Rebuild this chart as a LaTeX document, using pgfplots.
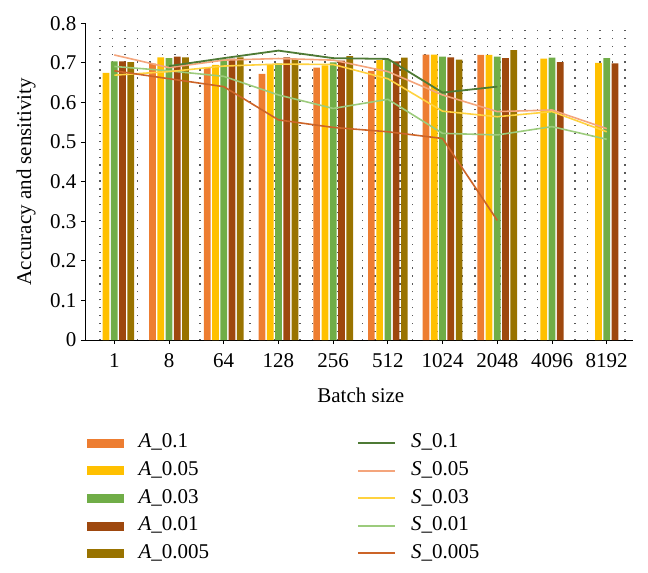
\documentclass[border=0pt]{standalone}
\usepackage{fontspec}
\setmainfont{Liberation Serif}
\usepackage{pgfplots}
\pgfplotsset{compat=1.18}
\definecolor{cA1}{HTML}{ED7D31}
\definecolor{cA2}{HTML}{FFC000}
\definecolor{cA3}{HTML}{70AD47}
\definecolor{cA4}{HTML}{9E480E}
\definecolor{cA5}{HTML}{997300}
\definecolor{cS1}{HTML}{4E7A35}
\definecolor{cS2}{HTML}{F4A57C}
\definecolor{cS3}{HTML}{FFD23F}
\definecolor{cS4}{HTML}{9CCB7C}
\definecolor{cS5}{HTML}{CC6428}
\begin{document}
\begin{tikzpicture}[font=\fontsize{21bp}{25bp}\selectfont]
\begin{axis}[name=ax,
  width=548.3bp, height=316.7bp, scale only axis,
  xmin=-0.536, xmax=9.486, ymin=0, ymax=0.8,
  axis lines=left, axis line style={-, line width=0.9bp},
  xtick={0,...,9}, xticklabels={1,8,64,128,256,512,1024,2048,4096,8192},
  ytick={0,0.1,0.2,0.3,0.4,0.5,0.6,0.7,0.8},
  /pgf/number format/assume math mode=true,
  tick align=outside, major tick length=4bp, tick style={black, line width=0.8bp},
  xticklabel style={yshift=-6bp},
  yticklabel style={xshift=-1bp},
  minor xtick={-0.261,-0.0325,...,9.4}, minor tick length=0pt,
  xminorgrids, minor grid style={black!65, line width=1.3bp, dash pattern=on 1.3bp off 6.62bp},
  xlabel={Batch size}, ylabel={Accuracy and sensitivity},
  xlabel style={at={(axis description cs:0.503,-0.1958)}, anchor=base},
  ylabel style={at={(axis description cs:-0.1076,0.5)}, anchor=center},
  legend columns=2,
  legend style={draw=none, fill=none, inner sep=0pt, at={(0.0036,-0.293)}, anchor=north west,
    nodes={inner sep=1bp, text height=14bp, text depth=4bp},
    row sep=7.6bp,
    /tikz/every odd column/.append style={column sep=14bp},
    /tikz/every even column/.append style={column sep=147bp}},
  legend cell align=left,
]
% bars
\addplot[ybar, fill=cA1, draw=none, bar width=0.1225, bar shift=-0.302, forget plot] coordinates {(1,0.698) (2,0.689) (3,0.672) (4,0.688) (5,0.680) (6,0.721) (7,0.720)};
\addplot[ybar, fill=cA2, draw=none, bar width=0.1225, bar shift=-0.151, forget plot] coordinates {(0,0.675) (1,0.714) (2,0.695) (3,0.697) (4,0.694) (5,0.707) (6,0.721) (7,0.720) (8,0.711) (9,0.700)};
\addplot[ybar, fill=cA3, draw=none, bar width=0.1225, bar shift=0, forget plot] coordinates {(0,0.704) (1,0.712) (2,0.709) (3,0.699) (4,0.701) (5,0.707) (6,0.716) (7,0.716) (8,0.713) (9,0.712)};
\addplot[ybar, fill=cA4, draw=none, bar width=0.1225, bar shift=0.151, forget plot] coordinates {(0,0.704) (1,0.716) (2,0.711) (3,0.714) (4,0.706) (5,0.704) (6,0.714) (7,0.712) (8,0.702) (9,0.699)};
\addplot[ybar, fill=cA5, draw=none, bar width=0.1225, bar shift=0.302, forget plot] coordinates {(0,0.702) (1,0.714) (2,0.714) (3,0.710) (4,0.717) (5,0.713) (6,0.708) (7,0.732)};
% lines
\addplot[cS4, line width=1.6bp, forget plot] coordinates {(0,0.691) (1,0.680) (2,0.666) (3,0.619) (4,0.585) (5,0.608) (6,0.522) (7,0.518) (8,0.539) (9,0.507)};
\addplot[cS3, line width=1.6bp, forget plot] coordinates {(0,0.669) (1,0.678) (2,0.692) (3,0.697) (4,0.696) (5,0.660) (6,0.578) (7,0.564) (8,0.577) (9,0.526)};
\addplot[cS2, line width=1.6bp, forget plot] coordinates {(0,0.720) (1,0.688) (2,0.707) (3,0.711) (4,0.707) (5,0.678) (6,0.619) (7,0.577) (8,0.581) (9,0.534)};
\addplot[cS5, line width=1.6bp, forget plot] coordinates {(0,0.680) (1,0.660) (2,0.640) (3,0.556) (4,0.537) (5,0.526) (6,0.509) (7,0.302)};
\addplot[cS1, line width=1.8bp, forget plot] coordinates {(1,0.692) (2,0.712) (3,0.731) (4,0.712) (5,0.710) (6,0.625) (7,0.640)};
% legend
\addlegendimage{legend image code/.code={\fill[cA1] (0bp,-4bp) rectangle (36bp,4bp);}}
\addlegendentry{\textit{A}\_0.1}
\addlegendimage{legend image code/.code={\draw[cS1, line width=2bp] (0bp,0bp) -- (37bp,0bp);}}
\addlegendentry{\textit{S}\_0.1}
\addlegendimage{legend image code/.code={\fill[cA2] (0bp,-4bp) rectangle (36bp,4bp);}}
\addlegendentry{\textit{A}\_0.05}
\addlegendimage{legend image code/.code={\draw[cS2, line width=2bp] (0bp,0bp) -- (37bp,0bp);}}
\addlegendentry{\textit{S}\_0.05}
\addlegendimage{legend image code/.code={\fill[cA3] (0bp,-4bp) rectangle (36bp,4bp);}}
\addlegendentry{\textit{A}\_0.03}
\addlegendimage{legend image code/.code={\draw[cS3, line width=2bp] (0bp,0bp) -- (37bp,0bp);}}
\addlegendentry{\textit{S}\_0.03}
\addlegendimage{legend image code/.code={\fill[cA4] (0bp,-4bp) rectangle (36bp,4bp);}}
\addlegendentry{\textit{A}\_0.01}
\addlegendimage{legend image code/.code={\draw[cS4, line width=2bp] (0bp,0bp) -- (37bp,0bp);}}
\addlegendentry{\textit{S}\_0.01}
\addlegendimage{legend image code/.code={\fill[cA5] (0bp,-4bp) rectangle (36bp,4bp);}}
\addlegendentry{\textit{A}\_0.005}
\addlegendimage{legend image code/.code={\draw[cS5, line width=2bp] (0bp,0bp) -- (37bp,0bp);}}
\addlegendentry{\textit{S}\_0.005}
\end{axis}
\path ([xshift=-85bp,yshift=-233bp]ax.south west) rectangle ([xshift=14.7bp,yshift=23.3bp]ax.north east);
\end{tikzpicture}
\end{document}
